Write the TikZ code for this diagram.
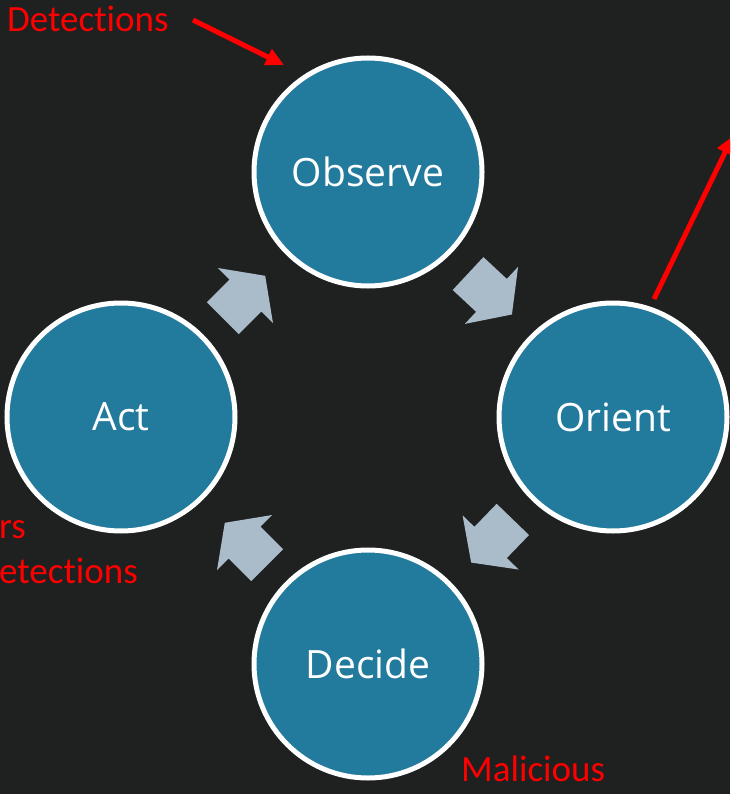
\documentclass[tikz,border=0pt]{standalone}
\usepackage{fontspec}
\setmainfont{Open Sans}
\newfontfamily\redfont[Ligatures=NoCommon,RawFeature={-liga;-dlig}]{Carlito}
\usetikzlibrary{arrows.meta}
\definecolor{bg}{HTML}{1F2020}
\definecolor{disc}{HTML}{227A9C}
\definecolor{barrowc}{HTML}{AABCCA}
\begin{document}
\begin{tikzpicture}[x=1pt,y=-1pt,
  stage/.style={circle, draw=white, line width=5pt, fill=disc, minimum size=228pt, inner sep=0pt, text=white, font=\fontsize{39}{46}\selectfont},
  redlabel/.style={text=red, font=\redfont\fontsize{37}{44}\selectfont, inner sep=0pt},
  redarrow/.style={draw=red, line width=5pt, -{Triangle[length=18pt,width=17pt]}},
  cyc/.pic={\fill[barrowc] (-30,-22.5) -- (2,-22.5) -- (2,-39) -- (30,0) -- (2,39) -- (2,22.5) -- (-30,22.5) -- cycle;}]
\fill[bg] (0,0) rectangle (730,794);
\useasboundingbox (0,0) rectangle (730,794);
\clip (0,0) rectangle (730,794);

\node[stage] (obs) at (368,172) {Observe};
\node[stage] (ori) at (613,417) {Orient};
\node[stage] (act) at (121,417) {Act};
\node[stage] (dec) at (368,664) {Decide};

\pic[rotate=-43] at (490,294) {cyc};
\pic[rotate=-134] at (492,541) {cyc};
\pic[rotate=135] at (246,544) {cyc};
\pic[rotate=45] at (244,297) {cyc};

\node[redlabel, anchor=base west] (detTop) at (7,32) {Detections};
\node[redlabel, anchor=base west] (rsL) at (-1,538) {rs};
\node[redlabel, anchor=base west] (detL) at (-1,583) {etections};
\node[redlabel, anchor=base west] (mal) at (461,781) {Malicious};

\coordinate (a1s) at (193,20);
\coordinate (a1e) at (284,65);
\draw[redarrow] (a1s) -- (a1e);
\coordinate (a2s) at (654,299);
\coordinate (a2e) at (733,136);
\draw[redarrow] (a2s) -- (a2e);
\end{tikzpicture}
\end{document}
